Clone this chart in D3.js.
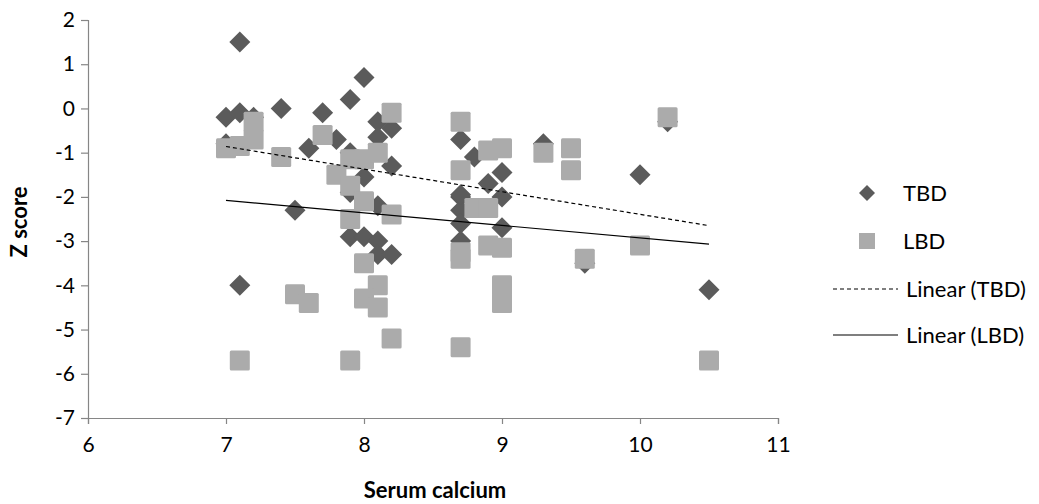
<!DOCTYPE html>
<html><head><meta charset="utf-8">
<script src="https://cdn.jsdelivr.net/npm/d3@7"></script>
<style>
html,body{margin:0;padding:0;background:#fff;}
text{font-family:Lato,"Open Sans",sans-serif;fill:#000;}
</style></head>
<body>
<svg id="chart" width="1039" height="504"></svg>
<script>
// ---- data ----
const seriesNames = ["TBD", "LBD"];
const xTicks = [6, 7, 8, 9, 10, 11];
const yTicks = [-7, -6, -5, -4, -3, -2, -1, 0, 1, 2];
const tbdX = [7.1, 7.0, 7.1, 7.2, 7.4, 7.7, 7.6, 7.5, 7.1, 7.9, 8.0, 7.8, 8.1, 8.2, 7.0, 8.1, 8.2, 8.0, 7.9, 7.9, 8.1,
  7.9, 8.0, 8.1, 8.1, 8.2, 8.7, 8.8, 9.0, 8.9, 8.7, 9.0, 8.7, 8.7, 8.7, 9.0, 8.7, 9.3, 10.0, 10.2, 9.6, 10.5];
const tbdY = [1.5, -0.2, -0.1, -0.2, 0.0, -0.1, -0.9, -2.3, -4.0, 0.2, 0.7, -0.7, -0.3, -0.45, -0.8, -0.65, -1.3, -1.55, -1.0, -1.9, -2.2,
  -2.9, -2.9, -3.0, -3.3, -3.3, -0.7, -1.1, -1.45, -1.7, -2.0, -2.0, -2.3, -2.6, -3.0, -2.7, -1.95, -0.8, -1.5, -0.3, -3.5, -4.1];
const lbdX = [7.2, 7.2, 7.0, 7.1, 7.4, 7.7, 8.2, 7.9, 7.8, 8.0, 8.1, 7.9, 8.0, 7.5, 7.6, 7.1, 7.9, 7.9, 8.2, 8.0, 8.1, 8.0, 8.1, 8.2,
  8.7, 8.7, 8.9, 9.0, 8.8, 8.9, 8.7, 8.7, 8.9, 9.0, 9.0, 9.0, 8.7, 9.3, 9.5, 9.5, 10.2, 9.6, 10.0, 10.5];
const lbdY = [-0.3, -0.7, -0.9, -0.85, -1.1, -0.6, -0.1, -1.15, -1.5, -1.15, -1.0, -1.75, -2.1, -4.2, -4.4, -5.7, -5.7, -2.5, -2.4, -3.5, -4.0, -4.3, -4.5, -5.2,
  -0.3, -1.4, -0.95, -0.9, -2.25, -2.25, -3.25, -3.4, -3.1, -3.15, -4.0, -4.4, -5.4, -1.0, -0.9, -1.4, -0.2, -3.4, -3.1, -5.7];
const trendTBD = [[7.0, -0.86], [10.5, -2.65]];
const trendLBD = [[7.0, -2.08], [10.5, -3.07]];
const legendLabels = ["TBD", "LBD", "Linear (TBD)", "Linear (LBD)"];

// ---- chart ----
const svg = d3.select("#chart");
const x = d3.scaleLinear().domain([6, 11]).range([88, 778]);
const y = d3.scaleLinear().domain([-7, 2]).range([418, 20]);
const axisColor = "#868686";
const darkC = "#5b5b5b", lightC = "#ababab";

const gx = svg.append("g").attr("transform", `translate(0,${y(-7)})`)
  .call(d3.axisBottom(x).tickValues(xTicks).tickFormat(d3.format("d")).tickSize(6).tickPadding(13));
const gy = svg.append("g").attr("transform", `translate(${x(6)},0)`)
  .call(d3.axisLeft(y).tickValues(yTicks).tickFormat(d3.format("d")).tickSize(7).tickPadding(6));
[gx, gy].forEach(g => {
  g.selectAll("path.domain").attr("stroke", axisColor).attr("stroke-width", 1.2);
  g.selectAll(".tick line").attr("stroke", axisColor).attr("stroke-width", 1.2);
  g.selectAll(".tick text").style("font-family", "Lato, sans-serif").style("font-size", "21px").attr("fill", "#000");
});
gy.selectAll(".tick text").text(d => d < 0 ? "-" + Math.abs(d) : d);

// axis titles
svg.append("text").attr("x", 435).attr("y", 498).attr("text-anchor", "middle")
  .style("font-size", "22px").style("font-weight", "bold").text("Serum calcium");
svg.append("text").attr("transform", `translate(27,222) rotate(-90)`).attr("text-anchor", "middle")
  .style("font-size", "22px").style("font-weight", "bold").text("Z score");

// points
const diamond = (cx, cy, r) => `M${cx},${cy - r}L${cx + r},${cy}L${cx},${cy + r}L${cx - r},${cy}Z`;
const tbd = tbdX.map((v, i) => [v, tbdY[i]]);
const lbd = lbdX.map((v, i) => [v, lbdY[i]]);
svg.append("g").selectAll("path").data(tbd).join("path")
  .attr("d", d => diamond(x(d[0]), y(d[1]), 10.5)).attr("fill", darkC);
svg.append("g").selectAll("rect").data(lbd).join("rect")
  .attr("x", d => x(d[0]) - 10).attr("y", d => y(d[1]) - 10).attr("width", 20).attr("height", 20)
  .attr("rx", 1.5).attr("fill", lightC);

// trend lines
const line = d3.line().x(d => x(d[0])).y(d => y(d[1]));
svg.append("path").datum(trendTBD).attr("d", line).attr("fill", "none").attr("stroke", "#000")
  .attr("stroke-width", 1.2).attr("stroke-dasharray", "4,3");
svg.append("path").datum(trendLBD).attr("d", line).attr("fill", "none").attr("stroke", "#000")
  .attr("stroke-width", 1.2);

// legend
const lg = svg.append("g");
const ly = [193, 241, 289, 335];
lg.append("path").attr("d", diamond(867, ly[0], 8)).attr("fill", darkC);
lg.append("rect").attr("x", 859).attr("y", ly[1] - 8).attr("width", 16).attr("height", 16).attr("fill", lightC);
lg.append("line").attr("x1", 833).attr("x2", 898).attr("y1", ly[2]).attr("y2", ly[2])
  .attr("stroke", "#000").attr("stroke-width", 1.2).attr("stroke-dasharray", "4,3");
lg.append("line").attr("x1", 833).attr("x2", 898).attr("y1", ly[3]).attr("y2", ly[3])
  .attr("stroke", "#000").attr("stroke-width", 1.2);
legendLabels.forEach((t, i) => {
  lg.append("text").attr("x", i < 2 ? 903 : 906).attr("y", ly[i]).attr("dy", "0.35em")
    .style("font-size", "22px").text(t);
});
</script>
</body></html>
